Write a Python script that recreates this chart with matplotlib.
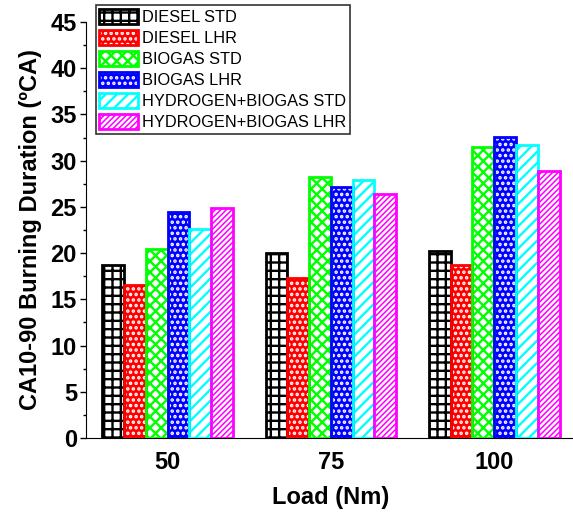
import numpy as np
import matplotlib.pyplot as plt
import matplotlib.patches as mpatches
from matplotlib.ticker import MultipleLocator

plt.rcParams['font.family'] = ['Liberation Sans', 'DejaVu Sans']
plt.rcParams['hatch.linewidth'] = 1.7

loads = ['50', '75', '100']
series = ['DIESEL STD', 'DIESEL LHR', 'BIOGAS STD', 'BIOGAS LHR',
          'HYDROGEN+BIOGAS STD', 'HYDROGEN+BIOGAS LHR']
diesel_std = [18.7, 20.0, 20.2]
diesel_lhr = [16.5, 17.3, 18.7]
biogas_std = [20.4, 28.2, 31.5]
biogas_lhr = [24.5, 27.2, 32.6]
h2_biogas_std = [22.6, 27.9, 31.7]
h2_biogas_lhr = [24.9, 26.4, 28.9]
values = [diesel_std, diesel_lhr, biogas_std, biogas_lhr, h2_biogas_std, h2_biogas_lhr]

# (face, hatch colour, outline colour, hatch)
styles = [
    ('white', 'black', 'black', '++'),
    ('red', 'white', 'red', '...'),
    ('white', '#00ff00', '#00ff00', 'xxx'),
    ('#0000ff', 'white', '#0000ff', '...'),
    ('white', 'cyan', 'cyan', '///'),
    ('magenta', 'white', 'magenta', '//////'),
]

fig = plt.figure(figsize=(5.73, 5.12), dpi=100)
ax = fig.add_axes([0.150, 0.1445, 0.855, 0.8125])

x = np.arange(len(loads))
w = 0.8 / len(series)
handles = []
for i, (vals, (fc, hc, ec, h)) in enumerate(zip(values, styles)):
    pos = x - 0.4 + w * (i + 0.5)
    ax.bar(pos, vals, w, color=fc, edgecolor=hc, hatch=h, linewidth=0, zorder=2)
    ax.bar(pos, vals, w, fill=False, edgecolor=ec, linewidth=2, zorder=3)
    p1 = mpatches.Patch(facecolor=fc, edgecolor=hc, hatch=h, linewidth=0)
    p2 = mpatches.Patch(fill=False, edgecolor=ec, linewidth=2)
    handles.append((p1, p2))

ax.set_xlim(-0.5, 2.5)
ax.set_ylim(0, 45)
ax.set_xticks(x)
ax.set_xticklabels(loads)
ax.tick_params(axis='x', length=0, pad=9)
ax.yaxis.set_major_locator(MultipleLocator(5))
ax.yaxis.set_minor_locator(MultipleLocator(2.5))
ax.tick_params(axis='y', which='major', direction='out', length=4, width=1, pad=2.5)
ax.tick_params(axis='y', which='minor', direction='out', length=2.5, width=1)
for lab in ax.get_xticklabels() + ax.get_yticklabels():
    lab.set_fontsize(17)
    lab.set_fontweight('bold')
ax.spines['top'].set_visible(False)
ax.spines['right'].set_visible(False)

ax.set_xlabel('Load (Nm)', fontsize=17, fontweight='bold', labelpad=9)
ax.set_ylabel('CA10-90 Burning Duration (\u00baCA)', fontsize=17, fontweight='bold', labelpad=6)

leg = ax.legend(handles, series, loc='upper left', bbox_to_anchor=(0.02, 1.04),
                fontsize=11.8, frameon=True, fancybox=False, handlelength=2.4,
                handleheight=1.05, labelspacing=0.3, handletextpad=0.25,
                borderpad=0.2, borderaxespad=0)
leg.get_frame().set_edgecolor('black')
leg.get_frame().set_linewidth(1.2)

fig.savefig('out.png', dpi=100)
